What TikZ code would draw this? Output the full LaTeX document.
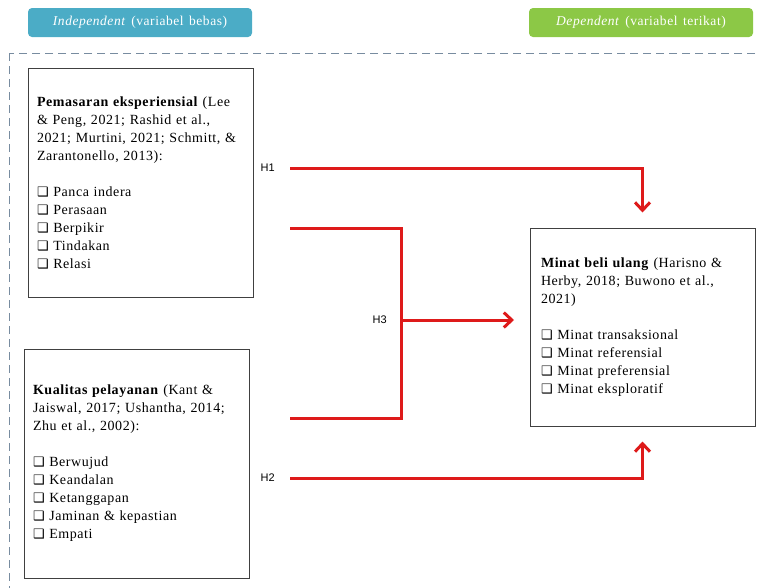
\documentclass[tikz,border=0pt]{standalone}
\usepackage{fontspec}
\setmainfont{Liberation Serif}[LetterSpace=4,WordSpace=1.4]
\newfontfamily\hfont{Liberation Sans}
\newfontfamily\symfont{DejaVu Sans}
\usetikzlibrary{positioning}
\usetikzlibrary{arrows.meta}

\newcommand{\cbx}{{\symfont\fontsize{13}{18}\selectfont ❑}\ }

\begin{document}
\begin{tikzpicture}[x=1pt,y=-1pt,>={Straight Barb[length=8pt,width=15pt]},
	var node/.style={draw=black!75,line width=1pt,fill=white,align=left,
		text width=207pt,inner xsep=9pt,minimum height=229pt,
		font=\fontsize{14}{18}\selectfont},
	head node/.style={rounded corners=4pt,text=white,minimum width=224pt,
		minimum height=29pt,font=\fontsize{13.5}{15}\selectfont},
	hyp/.style={font=\hfont\fontsize{11}{12}\selectfont,inner sep=2pt},
	link/.style={draw=linkred,line width=3pt}]
	
	\definecolor{indepblue}{RGB}{75,172,198}
	\definecolor{depgreen}{RGB}{140,200,70}
	\definecolor{framegray}{RGB}{120,140,160}
	\definecolor{linkred}{RGB}{222,26,26}
	
	\useasboundingbox (0,0) rectangle (760,587);
	\draw[framegray,dashed,dash pattern=on 8pt off 5pt,line width=0.8pt] (9,53) rectangle (790,620);
	
	\node[head node, fill=indepblue] (indep) at (140,22.5) {\textit{Independent} (variabel bebas)};
	\node[head node, fill=depgreen] (dep) at (641,22.5) {\textit{Dependent} (variabel terikat)};
	
	\node[var node] (pemasaran) at (140.5,182.5) {\textbf{Pemasaran eksperiensial} (Lee\\
		\& Peng, 2021; Rashid et al.,\\
		2021; Murtini, 2021; Schmitt, \&\\
		Zarantonello, 2013):\\[18pt]
		\cbx Panca indera\\
		\cbx Perasaan\\
		\cbx Berpikir\\
		\cbx Tindakan\\
		\cbx Relasi};
	\node[var node] (kualitas) at (136.5,463.5) {\textbf{Kualitas pelayanan} (Kant \&\\
		Jaiswal, 2017; Ushantha, 2014;\\
		Zhu et al., 2002):\\[18pt]
		\cbx Berwujud\\
		\cbx Keandalan\\
		\cbx Ketanggapan\\
		\cbx Jaminan \& kepastian\\
		\cbx Empati};
	\node[var node, minimum height=198pt, text width=203pt, inner xsep=11pt] (minat) at (642.5,327) {\textbf{Minat beli ulang} (Harisno \&\\
		Herby, 2018; Buwono et al.,\\
		2021)\\[18pt]
		\cbx Minat transaksional\\
		\cbx Minat referensial\\
		\cbx Minat preferensial\\
		\cbx Minat eksploratif};
	
	\coordinate (h1s) at (290,168);
	\coordinate (h2s) at (290,478);
	\coordinate (h3a) at (290,228);
	\coordinate (h3b) at (290,418);
	\coordinate (h3j) at (401,320);
	\coordinate (h3e) at (514,320);
	
	\node[hyp, left=13pt of h1s] (h1) {H1};
	\node[hyp, left=13pt of h2s] (h2) {H2};
	\node[hyp, left=12pt of h3j] (h3) {H3};
	
	\draw[link,->] (h1s) -| ([yshift=15pt]minat.north);
	\draw[link,->] (h2s) -| ([yshift=-15pt]minat.south);
	\draw[link] (h3a) -| (h3j) |- (h3b);
	\draw[link,->] (h3j) -- (h3e);
\end{tikzpicture}
\end{document}
